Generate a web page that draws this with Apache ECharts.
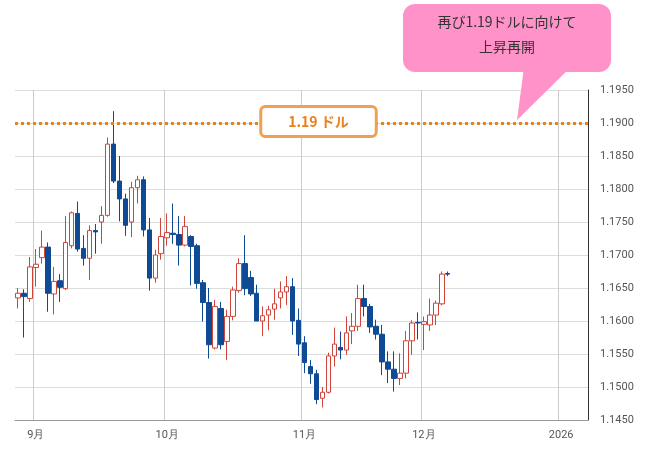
<!DOCTYPE html>
<html><head><meta charset="utf-8">
<script src="https://cdn.jsdelivr.net/npm/echarts@6/dist/echarts.min.js"></script>
<style>html,body{margin:0;padding:0;background:#fff}#c{width:650px;height:461px}</style>
</head><body><div id="c"></div>
<script>
// OHLC: [open, close, low, high]
const opens  = [1.1635,1.1642,1.1634,1.1681,1.1696,1.1712,1.1641,1.1661,1.1649,1.1714,1.1763,1.1710,1.1695,1.1737,1.1750,1.1760,1.1868,1.1812,
 1.1785,1.1750,1.1802,1.1814,1.1738,1.1665,1.1702,1.1726,1.1733,1.1731,1.1715,1.1728,1.1714,1.1658,1.1628,1.1559,1.1619,1.1569,
 1.1607,1.1646,1.1687,1.1666,1.1642,1.1600,1.1609,1.1618,1.1635,1.1644,1.1652,1.1601,1.1567,1.1531,1.1520,1.1483,1.1492,
 1.1547,1.1560,1.1556,1.1585,1.1592,1.1634,1.1622,1.1592,1.1580,1.1538,1.1527,1.1513,1.1521,1.1570,1.1598,1.1595,1.1594,1.1609,1.1626,1.1672];
const closes = [1.1642,1.1637,1.1682,1.1686,1.1712,1.1642,1.1660,1.1651,1.1719,1.1764,1.1709,1.1695,1.1737,1.1735,1.1760,1.1868,1.1812,1.1785,
 1.1745,1.1802,1.1814,1.1738,1.1665,1.1700,1.1728,1.1734,1.1731,1.1715,1.1743,1.1713,1.1657,1.1628,1.1564,1.1622,1.1564,1.1607,
 1.1647,1.1687,1.1649,1.1641,1.1600,1.1608,1.1617,1.1626,1.1644,1.1652,1.1600,1.1565,1.1537,1.1520,1.1481,1.1492,1.1547,
 1.1565,1.1556,1.1582,1.1592,1.1634,1.1622,1.1591,1.1580,1.1538,1.1527,1.1513,1.1521,1.1570,1.1597,1.1597,1.1599,1.1609,1.1627,1.1671,1.1671];
const lows   = [1.1619,1.1575,1.1629,1.1652,1.1687,1.1614,1.1610,1.1629,1.1647,1.1710,1.1705,1.1684,1.1662,1.1702,1.1717,1.1758,1.1809,1.1751,
 1.1729,1.1727,1.1778,1.1728,1.1646,1.1658,1.1693,1.1714,1.1717,1.1684,1.1713,1.1654,1.1649,1.1599,1.1543,1.1557,1.1557,1.1541,
 1.1601,1.1643,1.1639,1.1638,1.1600,1.1577,1.1586,1.1602,1.1619,1.1624,1.1579,1.1547,1.1521,1.1505,1.1474,1.1469,1.1490,
 1.1531,1.1542,1.1549,1.1565,1.1585,1.1607,1.1582,1.1572,1.1518,1.1506,1.1493,1.1503,1.1513,1.1549,1.1572,1.1556,1.1585,1.1594,1.1624,1.1668];
const highs  = [1.1650,1.1648,1.1697,1.1709,1.1737,1.1719,1.1682,1.1671,1.1759,1.1766,1.1781,1.1730,1.1745,1.1747,1.1774,1.1878,1.1918,1.1850,
 1.1793,1.1811,1.1820,1.1819,1.1756,1.1708,1.1756,1.1763,1.1778,1.1759,1.1759,1.1730,1.1717,1.1662,1.1650,1.1632,1.1629,1.1617,
 1.1652,1.1695,1.1730,1.1676,1.1655,1.1622,1.1623,1.1649,1.1660,1.1668,1.1665,1.1619,1.1577,1.1541,1.1526,1.1500,1.1552,
 1.1590,1.1584,1.1607,1.1612,1.1655,1.1655,1.1626,1.1602,1.1594,1.1554,1.1554,1.1551,1.1585,1.1601,1.1613,1.1607,1.1634,1.1631,1.1675,1.1675];
const targetLevel = 1.19;
const targetLabel = '1.19 ドル';
const calloutLines = ['再び1.19ドルに向けて', '上昇再開'];
const monthLabels = {9:'9月',10:'10月',11:'11月',12:'12月',1:'2026'};

// weekday categories from 2025-08-27 to 2026-01-07
const dates = [];
for (let d = new Date(Date.UTC(2025,7,27)); d <= new Date(Date.UTC(2026,0,7)); d.setUTCDate(d.getUTCDate()+1)) {
  const wd = d.getUTCDay(); if (wd===0||wd===6) continue;
  dates.push(d.toISOString().slice(0,10));
}
const firstOfMonth = new Set();
let prevM = null;
dates.forEach((s,i)=>{const m=+s.slice(5,7); if(i>0 && m!==prevM) firstOfMonth.add(i); prevM=m;});
const ohlc = opens.map((o,i)=>[o,closes[i],lows[i],highs[i]]);

const chart = echarts.init(document.getElementById('c'));
chart.setOption({
  animation:false,
  grid:{left:15,right:62,top:90,bottom:41},
  xAxis:{type:'category',data:dates,boundaryGap:true,
    axisLine:{lineStyle:{color:'#999'}},axisTick:{show:false},
    axisLabel:{interval:(i)=>firstOfMonth.has(i),formatter:(v)=>monthLabels[+v.slice(5,7)],color:'#555',fontSize:11,fontFamily:'Roboto, sans-serif',margin:10},
    splitLine:{show:true,interval:(i)=>firstOfMonth.has(i),lineStyle:{color:'#ccc'}}},
  yAxis:{type:'value',position:'right',min:1.145,max:1.195,interval:0.005,
    axisLine:{show:true,lineStyle:{color:'#333'}},axisTick:{show:false},
    axisLabel:{formatter:(v)=>v.toFixed(4),color:'#555',fontSize:11,fontFamily:'Roboto, sans-serif',margin:12},
    splitLine:{lineStyle:{color:'#ddd'}}},
  series:[{type:'candlestick',data:ohlc,barWidth:5,
    itemStyle:{color:'#ffffff',color0:'#0f4a94',borderColor:'#d0453a',borderColor0:'#0f4a94',borderWidth:1},
    markLine:{symbol:'none',silent:true,
      lineStyle:{color:'#e8821e',type:[3,3],width:3},
      label:{show:true,position:'middle',offset:[17,17],formatter:targetLabel,color:'#e8821e',fontWeight:'bold',fontSize:14,
        backgroundColor:'#fff',borderColor:'#f0a050',borderWidth:3,borderRadius:3,padding:[7,26,6,26],fontFamily:'Noto Sans CJK JP'},
      data:[{yAxis:targetLevel}]}}],
  graphic:[
    {type:'polygon',shape:{points:[[525,60],[578,60],[517,120]]},style:{fill:'#ff93c9'},z:100},
    {type:'rect',shape:{x:403,y:4,width:208,height:68,r:12},style:{fill:'#ff93c9'},z:100},
    {type:'text',x:507,y:22,style:{text:calloutLines[0],fill:'#333',font:'14px "Noto Sans CJK JP"',textAlign:'center',textVerticalAlign:'middle'},z:101},
    {type:'text',x:507,y:47,style:{text:calloutLines[1],fill:'#333',font:'14px "Noto Sans CJK JP"',textAlign:'center',textVerticalAlign:'middle'},z:101}
  ]
});
</script></body></html>
